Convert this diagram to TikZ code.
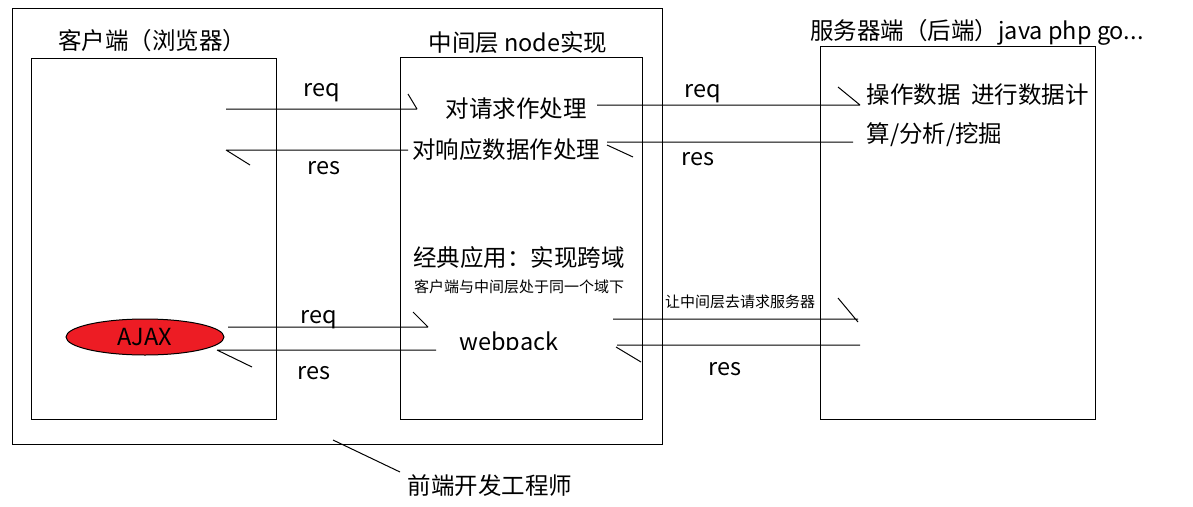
\documentclass[tikz,border=0pt]{standalone}
\usepackage{fontspec}
\setmainfont{Noto Sans CJK SC}
\usetikzlibrary{shapes.geometric}
\definecolor{paintred}{HTML}{ED1C24}
\begin{document}
\begin{tikzpicture}[x=1pt,y=-1pt,line width=1pt]
    \tikzset{big/.style={font=\fontsize{23.5}{27}\selectfont,inner sep=0pt},
             small/.style={font=\fontsize{15}{17}\selectfont,inner sep=0pt}}
    \useasboundingbox (0,0) rectangle (1193,506);
    % boxes
    \draw (12,8) rectangle (662,444);
    \draw (31,58) rectangle (276,419);
    \draw (400,57) rectangle (642,419);
    \draw (820,46) rectangle (1095,419);
    \node[big] (client) at (152,41) {客户端（浏览器）};
    \node[big] (middle) at (518,43) {中间层 node实现};
    \node[big] (server) at (977,32) {服务器端（后端）java php go...};
    % middle texts
    \node[big] (reqdo) at (516,109) {对请求作处理};
    \node[big] (resdo) at (506,150) {对响应数据作处理};
    \node[big] (classic) at (519,258) {经典应用：实现跨域};
    \node[small] (domain) at (519,287) {客户端与中间层处于同一个域下};
    \begin{scope}
        \clip (430,320) rectangle (610,349);
        \node[big] (webpack) at (509,344) {webpack};
    \end{scope}
    % server texts
    \node[big,anchor=west] (calc) at (866,95) {操作数据\ \ 进行数据计};
    \node[big,anchor=west] (mine) at (866,135) {算/分析/挖掘};
    \node[small] (ask) at (740,302) {让中间层去请求服务器};
    % ajax
    \node[ellipse,draw,fill=paintred,minimum width=158,minimum height=36,inner sep=0pt,
          font=\fontsize{23.5}{27}\selectfont] (ajax) at (145,337) {AJAX};
    % client <-> middle
    \coordinate (a1) at (226,109); \coordinate (b1) at (417,109);
    \draw (a1) -- (b1) (408,94) -- (b1);
    \node[big] (req1) at (322,93) {req};
    \coordinate (a2) at (408,150); \coordinate (b2) at (226,150);
    \draw (a2) -- (b2) (b2) -- (250,165);
    \node[big] (res1) at (324,168) {res};
    \coordinate (a3) at (228,327); \coordinate (b3) at (428,327);
    \draw (a3) -- (b3) (413,312) -- (b3);
    \node[big] (req2) at (319,320) {req};
    \coordinate (a4) at (436,350); \coordinate (b4) at (217,350);
    \draw (a4) -- (b4) (b4) -- (252,367);
    \node[big] (res2) at (314,373) {res};
    % middle <-> server
    \coordinate (a5) at (597,105); \coordinate (b5) at (860,105);
    \draw (a5) -- (b5) (838,87) -- (b5);
    \node[big] (req3) at (703,94) {req};
    \coordinate (a6) at (853,142); \coordinate (b6) at (607,142);
    \draw (a6) -- (b6) (607,145) -- (633,157);
    \node[big] (res3) at (698,159) {res};
    \coordinate (a7) at (613,319); \coordinate (b7) at (858,319);
    \draw (a7) -- (b7) (838,298) -- (858,322);
    \coordinate (a8) at (860,345); \coordinate (b8) at (617,345);
    \draw (a8) -- (b8) (616,347) -- (641,362);
    \node[big] (res4) at (725,369) {res};
    % front-end engineer
    \node[big] (engineer) at (490,486) {前端开发工程师};
    \draw (333,440) -- (400,472);
\end{tikzpicture}
\end{document}
